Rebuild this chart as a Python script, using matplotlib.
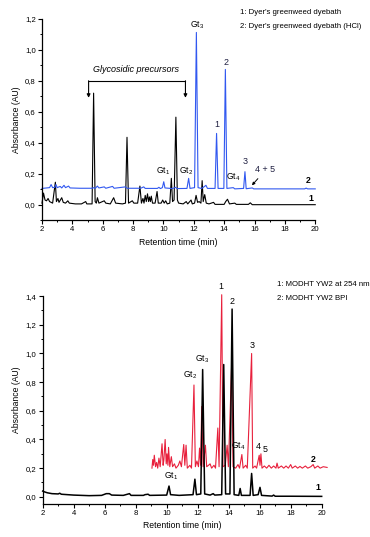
import matplotlib
matplotlib.use("Agg")
import matplotlib.pyplot as plt
from matplotlib.ticker import MultipleLocator, FuncFormatter

plt.rcParams['font.family'] = ['Liberation Sans', 'DejaVu Sans']
plt.rcParams['mathtext.default'] = 'regular'

# (time min, absorbance AU)
top_dyebath = [
    (2.0, 0.01), (2.1, 0.075), (2.2, 0.03), (2.3, 0.025), (2.4, 0.04), (2.5, 0.02), (2.7, 0.01),
    (2.88, 0.145), (2.95, 0.02), (3.05, 0.04), (3.12, 0.015), (3.3, 0.045), (3.4, 0.015),
    (3.55, 0.01), (3.7, 0.025), (3.8, 0.01), (4.2, 0.005), (4.6, 0.005), (4.88, 0.02),
    (4.95, 0.005), (5.3, 0.005), (5.4, 0.72), (5.5, 0.02), (5.58, 0.01), (5.65, 0.045),
    (5.75, 0.01), (6.1, 0.025), (6.2, 0.01), (6.5, 0.005), (6.72, 0.045), (6.85, 0.01),
    (7.3, 0.005), (7.5, 0.01), (7.6, 0.435), (7.7, 0.01), (7.95, 0.025), (8.05, 0.01),
    (8.3, 0.01), (8.45, 0.12), (8.55, 0.01), (8.65, 0.04), (8.72, 0.01), (8.8, 0.06),
    (8.87, 0.02), (8.95, 0.07), (9.02, 0.02), (9.08, 0.05), (9.14, 0.02), (9.2, 0.055),
    (9.28, 0.01), (9.45, 0.01), (9.58, 0.085), (9.66, 0.01), (9.85, 0.01), (9.95, 0.03),
    (10.05, 0.01), (10.15, 0.025), (10.25, 0.005), (10.42, 0.01), (10.52, 0.17), (10.6, 0.02),
    (10.7, 0.03), (10.82, 0.565), (10.92, 0.03), (11.0, 0.01), (11.3, 0.005), (11.5, 0.02),
    (11.6, 0.005), (11.82, 0.03), (11.9, 0.005), (12.05, 0.01), (12.15, 0.06), (12.25, 0.015),
    (12.35, 0.02), (12.47, 0.01), (12.55, 0.155), (12.62, 0.02), (12.72, 0.065), (12.82, 0.01),
    (13.0, 0.005), (13.3, 0.015), (13.4, 0.002), (14.0, 0.002), (14.1, 0.02), (14.22, 0.035),
    (14.35, 0.005), (14.7, 0.01), (14.8, 0.002), (15.6, 0.002), (15.72, 0.012), (15.85, 0.0),
    (18.0, 0.0), (20.0, 0.0),
]
top_hcl = [
    (2.0, 0.105), (2.3, 0.108), (2.5, 0.11), (2.6, 0.13), (2.7, 0.11), (2.85, 0.112),
    (2.92, 0.13), (3.0, 0.11), (3.2, 0.118), (3.3, 0.108), (3.45, 0.125), (3.55, 0.11),
    (3.75, 0.12), (3.85, 0.108), (4.5, 0.106), (5.3, 0.106), (5.4, 0.11), (5.5, 0.105),
    (5.65, 0.12), (5.75, 0.108), (6.1, 0.115), (6.2, 0.106), (6.65, 0.118), (6.75, 0.106),
    (7.5, 0.115), (7.6, 0.106), (8.5, 0.106), (8.7, 0.115), (8.8, 0.105), (9.6, 0.105),
    (9.7, 0.112), (9.8, 0.104), (9.93, 0.11), (10.02, 0.148), (10.1, 0.108), (10.6, 0.104),
    (10.8, 0.112), (10.9, 0.104), (11.55, 0.105), (11.66, 0.17), (11.75, 0.105), (12.05, 0.11),
    (12.17, 1.112), (12.28, 0.11), (12.5, 0.105), (12.6, 0.11), (12.8, 0.125), (12.9, 0.105),
    (13.4, 0.105), (13.5, 0.46), (13.6, 0.105), (13.98, 0.105), (14.08, 0.873), (14.18, 0.105),
    (14.6, 0.11), (14.7, 0.102), (15.28, 0.105), (15.37, 0.213), (15.45, 0.103), (15.85, 0.108),
    (15.95, 0.102), (17.0, 0.102), (19.3, 0.102), (19.4, 0.107), (19.5, 0.102), (20.0, 0.102),
]
bot_254 = [
    (2.0, 0.04), (2.1, 0.035), (2.3, 0.028), (2.6, 0.022), (3.0, 0.02), (3.1, 0.025),
    (3.2, 0.018), (3.6, 0.015), (4.0, 0.012), (4.5, 0.01), (5.0, 0.008), (5.8, 0.01),
    (6.1, 0.022), (6.3, 0.022), (6.45, 0.012), (7.2, 0.01), (7.6, 0.022), (7.7, 0.01),
    (8.5, 0.01), (8.6, 0.015), (8.8, 0.018), (8.9, 0.01), (10.0, 0.012), (10.15, 0.075),
    (10.25, 0.015), (10.8, 0.01), (11.7, 0.015), (11.82, 0.123), (11.92, 0.015), (12.2, 0.02),
    (12.32, 0.888), (12.45, 0.02), (12.8, 0.012), (13.0, 0.022), (13.1, 0.012), (13.55, 0.015),
    (13.68, 0.923), (13.8, 0.02), (14.08, 0.02), (14.22, 1.31), (14.35, 0.015), (14.65, 0.01),
    (14.74, 0.058), (14.82, 0.01), (15.38, 0.01), (15.48, 0.163), (15.58, 0.01), (15.9, 0.015),
    (16.02, 0.066), (16.12, 0.01), (16.8, 0.005), (16.9, 0.012), (17.0, 0.004), (18.0, 0.004),
    (20.0, 0.003),
]
bot_bpi = [
    (9.05, 0.2), (9.1, 0.26), (9.15, 0.22), (9.2, 0.29), (9.28, 0.21), (9.35, 0.24), (9.42, 0.2),
    (9.5, 0.27), (9.58, 0.21), (9.7, 0.37), (9.77, 0.22), (9.82, 0.26), (9.9, 0.40), (9.97, 0.23),
    (10.02, 0.3), (10.08, 0.22), (10.12, 0.345), (10.2, 0.21), (10.3, 0.28), (10.38, 0.21),
    (10.5, 0.23), (10.6, 0.2), (10.75, 0.22), (10.85, 0.25), (10.95, 0.21), (11.1, 0.365),
    (11.17, 0.22), (11.25, 0.36), (11.33, 0.2), (11.5, 0.22), (11.6, 0.2), (11.76, 0.78),
    (11.85, 0.21), (11.95, 0.25), (12.05, 0.21), (12.12, 0.34), (12.19, 0.22), (12.26, 0.63),
    (12.35, 0.21), (12.5, 0.36), (12.58, 0.21), (12.7, 0.22), (12.8, 0.23), (12.9, 0.2),
    (13.05, 0.22), (13.15, 0.2), (13.3, 0.48), (13.38, 0.21), (13.55, 1.41), (13.63, 0.21),
    (13.78, 0.22), (13.9, 0.36), (13.98, 0.21), (14.2, 0.95), (14.28, 0.21), (14.45, 0.2),
    (14.6, 0.225), (14.7, 0.2), (14.85, 0.295), (14.93, 0.2), (15.1, 0.22), (15.2, 0.2),
    (15.48, 1.0), (15.55, 0.2), (15.7, 0.215), (15.8, 0.2), (15.97, 0.29), (16.02, 0.22),
    (16.08, 0.30), (16.15, 0.2), (16.3, 0.215), (16.45, 0.2), (16.6, 0.22), (16.75, 0.2),
    (16.9, 0.215), (17.05, 0.2), (17.12, 0.235), (17.2, 0.2), (17.4, 0.215), (17.55, 0.2),
    (17.7, 0.215), (17.85, 0.2), (18.0, 0.225), (18.1, 0.2), (18.3, 0.215), (18.45, 0.2),
    (18.6, 0.212), (18.75, 0.2), (18.95, 0.215), (19.1, 0.2), (19.3, 0.21), (19.45, 0.225),
    (19.55, 0.2), (19.75, 0.215), (19.9, 0.2), (20.1, 0.21), (20.35, 0.205),
]

top_legend = ["1: Dyer's greenweed dyebath", "2: Dyer's greenweed dyebath (HCl)"]
bot_legend = ["1: MODHT YW2 at 254 nm", "2: MODHT YW2 BPI"]

BLUE = '#3158f0'
RED = '#e8203c'
FS = 5.6

comma = FuncFormatter(lambda v, p: ('%.1f' % v).replace('.', ','))


def style(ax, ylim, ystep):
    ax.set_xlim(2, 20)
    ax.set_ylim(*ylim)
    ax.spines['top'].set_visible(False)
    ax.spines['right'].set_visible(False)
    for s in ('left', 'bottom'):
        ax.spines[s].set_linewidth(0.9)
    ax.xaxis.set_major_locator(MultipleLocator(2))
    ax.xaxis.set_minor_locator(MultipleLocator(1))
    ax.yaxis.set_major_locator(MultipleLocator(ystep))
    ax.yaxis.set_minor_locator(MultipleLocator(ystep / 2))
    ax.yaxis.set_major_formatter(comma)
    ax.tick_params(which='major', direction='out', length=3, width=0.8, labelsize=FS, pad=1.5)
    ax.tick_params(which='minor', direction='out', length=1.6, width=0.7)
    ax.set_xlabel('Retention time (min)', fontsize=FS + 0.6, labelpad=3)
    ax.set_ylabel('Absorbance (AU)', fontsize=FS + 0.6, labelpad=3)


fig = plt.figure(figsize=(3.70, 5.37), dpi=100)

# ---- top panel
ax1 = fig.add_axes([0.1135, 0.590, 0.7385, 0.375])
t, a = zip(*top_dyebath)
ax1.plot(t, a, color='black', lw=0.8, clip_on=False)
t, a = zip(*top_hcl)
ax1.plot(t, a, color=BLUE, lw=0.8, clip_on=False)
style(ax1, (-0.1, 1.2), 0.2)

ax1.text(8.2, 0.875, 'Glycosidic precursors', style='italic', fontsize=FS + 0.9,
         ha='center', va='center')
ax1.plot([5.07, 11.45], [0.798, 0.798], color='black', lw=0.8)
for xa in (5.07, 11.45):
    ax1.annotate('', xy=(xa, 0.69), xytext=(xa, 0.80),
                 arrowprops=dict(arrowstyle='-|>', color='black', lw=0.8,
                                 mutation_scale=5, shrinkA=0, shrinkB=0))
NAVY = '#1e1e40'
ax1.text(12.2, 1.16, 'Gt$_3$', fontsize=FS + 0.6, ha='center', va='center')
ax1.text(14.1, 0.92, '2', fontsize=FS + 0.8, ha='center', va='center', color=NAVY)
ax1.text(13.5, 0.515, '1', fontsize=FS + 0.8, ha='center', va='center', color=NAVY)
ax1.text(9.95, 0.217, 'Gt$_1$', fontsize=FS + 0.6, ha='center', va='center')
ax1.text(11.5, 0.217, 'Gt$_2$', fontsize=FS + 0.6, ha='center', va='center')
ax1.text(15.35, 0.28, '3', fontsize=FS + 0.8, ha='center', va='center', color=NAVY)
ax1.text(14.6, 0.18, 'Gt$_4$', fontsize=FS + 0.6, ha='center', va='center')
ax1.text(16.7, 0.23, '4 + 5', fontsize=FS + 0.8, ha='center', va='center', color=NAVY)
ax1.annotate('', xy=(15.83, 0.125), xytext=(16.22, 0.168),
             arrowprops=dict(arrowstyle='-|>', color='black', lw=0.7,
                             mutation_scale=4, shrinkA=0, shrinkB=0))
ax1.text(19.55, 0.153, '2', fontsize=FS + 0.8, fontweight='bold', ha='center', va='center')
ax1.text(19.7, 0.037, '1', fontsize=FS + 0.8, fontweight='bold', ha='center', va='center')
for i, s in enumerate(top_legend):
    fig.text(240 / 370, 1 - (13 + 14 * i) / 537, s, fontsize=FS, va='center', ha='left')

# ---- bottom panel
ax2 = fig.add_axes([0.1154, 0.0615, 0.754, 0.387])
t, a = zip(*bot_bpi)
ax2.plot(t, a, color=RED, lw=0.8, clip_on=False)
t, a = zip(*bot_254)
ax2.plot(t, a, color='black', lw=1.1, clip_on=False)
style(ax2, (-0.05, 1.4), 0.2)

ax2.text(13.5, 1.464, '1', fontsize=FS + 0.8, ha='center', va='center')
ax2.text(14.23, 1.36, '2', fontsize=FS + 0.8, ha='center', va='center')
ax2.text(15.52, 1.053, '3', fontsize=FS + 0.8, ha='center', va='center')
ax2.text(12.3, 0.96, 'Gt$_3$', fontsize=FS + 0.6, ha='center', va='center')
ax2.text(11.5, 0.845, 'Gt$_2$', fontsize=FS + 0.6, ha='center', va='center')
ax2.text(14.6, 0.355, 'Gt$_4$', fontsize=FS + 0.6, ha='center', va='center')
ax2.text(15.93, 0.354, '4', fontsize=FS + 0.8, ha='center', va='center')
ax2.text(16.38, 0.333, '5', fontsize=FS + 0.8, ha='center', va='center')
ax2.text(10.26, 0.14, 'Gt$_1$', fontsize=FS + 0.6, ha='center', va='center')
ax2.text(19.46, 0.263, '2', fontsize=FS + 0.8, fontweight='bold', ha='center', va='center')
ax2.text(19.74, 0.065, '1', fontsize=FS + 0.8, fontweight='bold', ha='center', va='center')
for i, s in enumerate(bot_legend):
    fig.text(277 / 370, 1 - (285 + 13 * i) / 537, s, fontsize=FS, va='center', ha='left')

fig.savefig('out.png', dpi=100)
